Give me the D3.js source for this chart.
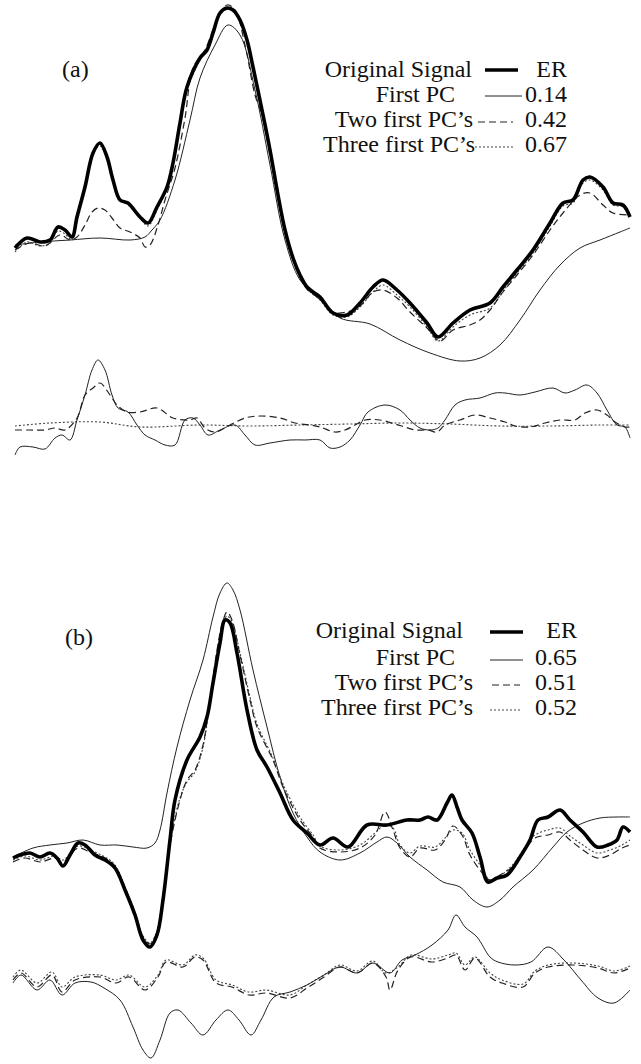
<!DOCTYPE html>
<html><head><meta charset="utf-8">
<script src="https://cdn.jsdelivr.net/npm/d3@7"></script>
<style>html,body{margin:0;padding:0;background:#fff;}svg{display:block;}</style>
</head><body>
<svg id="chart" width="641" height="1064"></svg>
<script>
// ---------- DATA (time in samples, amplitude in arbitrary units) ----------
const seriesNames = ["Original Signal", "First PC", "Two first PC\u2019s", "Three first PC\u2019s"];
const erA = ["ER", "0.14", "0.42", "0.67"];
const erB = ["ER", "0.65", "0.51", "0.52"];

// Panel (a) reconstructions
const aOrig = [[2,2],[14,12],[27,8],[37,10],[45,23],[52,20],[59,13],[64,33],[72,63],[80,97],[87,107],[94,93],[100,70],[107,50],[115,47],[127,33],[135,27],[144,43],[154,63],[160,87],[167,127],[174,163],[187,192],[194,200],[200,217],[207,237],[214,242],[220,240],[227,230],[234,210],[240,183],[249,140],[257,100],[265,55],[272,20],[280,-8],[287,-25],[294,-37],[300,-42],[307,-47],[320,-63],[334,-65],[347,-53],[360,-37],[370,-30],[384,-40],[397,-53],[414,-73],[425,-87],[440,-73],[457,-60],[477,-53],[490,-37],[504,-20],[520,0],[537,27],[550,47],[560,50],[570,70],[577,73],[590,63],[600,47],[610,45],[617,33]];
const aPC1 = [[2,5],[27,8],[57,10],[87,12],[117,10],[132,13],[139,20],[147,30],[162,70],[177,130],[187,172],[202,205],[215,225],[227,215],[242,160],[257,85],[272,10],[287,-30],[307,-50],[327,-68],[357,-74],[387,-90],[417,-103],[447,-111],[467,-108],[487,-95],[507,-70],[527,-40],[547,-15],[567,2],[587,10],[607,18],[617,22]];
const aPC2 = [[2,0],[17,7],[32,4],[47,15],[57,10],[64,13],[72,25],[79,38],[85,42],[92,40],[99,32],[107,22],[117,18],[127,12],[132,3],[137,5],[145,25],[152,50],[162,82],[172,132],[180,182],[192,200],[202,225],[214,245],[222,240],[232,205],[242,155],[249,135],[257,95],[267,45],[280,-10],[294,-39],[307,-49],[320,-62],[334,-62],[347,-56],[360,-42],[370,-40],[384,-48],[397,-62],[414,-78],[427,-91],[440,-80],[457,-75],[467,-70],[477,-60],[490,-42],[504,-25],[520,-5],[537,20],[550,37],[567,55],[577,57],[590,45],[600,37],[617,35]];
const aPC3 = [[2,-2],[14,8],[27,4],[37,7],[45,19],[52,16],[59,10],[64,28],[72,60],[80,97],[87,104],[94,92],[100,68],[107,50],[115,45],[127,32],[135,24],[144,40],[154,62],[160,85],[167,125],[174,160],[187,190],[194,200],[200,217],[207,236],[214,241],[220,239],[227,228],[234,208],[240,182],[249,138],[257,98],[265,53],[272,18],[280,-10],[287,-28],[294,-39],[307,-50],[320,-65],[334,-67],[347,-57],[360,-42],[370,-35],[384,-45],[397,-57],[414,-77],[425,-91],[440,-77],[457,-65],[477,-58],[490,-41],[504,-23],[520,-3],[537,24],[550,44],[560,47],[570,67],[577,70],[590,60],[600,45],[610,43],[617,32]];
// Panel (a) residuals
const aRes1 = [[2,-30],[7,-22],[20,-22],[32,-24],[42,-13],[49,-10],[57,-15],[64,5],[72,30],[79,55],[85,65],[92,55],[99,30],[105,17],[115,13],[124,0],[132,-10],[142,-15],[152,-20],[162,-20],[172,5],[180,7],[187,0],[195,-10],[207,-5],[222,0],[232,-10],[242,-20],[257,-18],[277,-15],[292,-15],[307,-15],[317,-23],[327,-22],[337,-15],[347,0],[355,13],[372,20],[387,15],[397,5],[407,-3],[417,-5],[425,-3],[432,5],[442,20],[452,25],[467,27],[482,32],[492,32],[507,30],[522,33],[540,37],[552,32],[562,35],[574,40],[584,32],[594,15],[604,0],[612,-2],[617,-13]];
const aRes2 = [[2,-5],[17,-5],[32,-5],[42,-3],[52,-5],[64,7],[72,30],[80,37],[87,42],[97,30],[104,20],[114,13],[127,13],[144,17],[160,7],[177,5],[184,7],[192,-3],[202,-7],[217,0],[232,7],[247,9],[267,7],[282,2],[297,0],[307,-2],[322,-7],[332,-5],[342,0],[352,5],[367,5],[382,1],[392,-2],[402,-5],[415,-5],[424,-7],[432,0],[447,5],[462,10],[477,7],[492,3],[502,-1],[517,-2],[532,2],[547,5],[562,5],[572,12],[584,15],[594,10],[602,3],[612,-2],[617,-2]];
const aRes3 = [[2,-1],[37,2],[87,3],[127,-2],[187,0],[237,-1],[287,0],[337,1],[387,2],[437,1],[487,-1],[537,-1],[587,0],[617,0]];

// Panel (b) reconstructions
const bOrig = [[0,-8],[7,-5],[17,-3],[27,-7],[37,-3],[44,-8],[50,-16],[57,-5],[65,7],[72,5],[82,-5],[92,-10],[102,-18],[112,-40],[122,-65],[130,-90],[137,-97],[144,-85],[150,-50],[157,10],[162,50],[174,90],[187,113],[194,133],[200,167],[207,207],[212,230],[217,227],[224,197],[234,140],[244,100],[254,83],[267,57],[280,30],[294,17],[307,5],[320,12],[335,3],[354,25],[374,25],[394,30],[407,30],[415,33],[424,30],[434,47],[439,55],[444,43],[449,30],[459,17],[467,-7],[475,-32],[484,-28],[494,-25],[507,-7],[517,10],[525,30],[535,33],[547,40],[557,30],[570,18],[584,3],[595,5],[604,10],[610,23],[617,18]];
const bPC1 = [[0,-7],[20,2],[37,5],[54,7],[70,10],[87,5],[104,5],[120,3],[134,2],[142,7],[147,20],[154,57],[164,103],[177,150],[190,190],[200,233],[207,257],[214,267],[220,260],[227,240],[240,180],[254,123],[267,73],[280,37],[294,13],[307,-2],[327,-10],[347,-3],[364,8],[374,13],[384,7],[397,-7],[414,-20],[430,-32],[447,-37],[460,-50],[474,-57],[487,-50],[500,-37],[520,-20],[540,3],[554,18],[570,27],[587,32],[604,33],[617,33]];
const bPC2 = [[0,-12],[12,-8],[27,-12],[42,-8],[50,-12],[65,2],[77,-2],[92,-8],[102,-16],[112,-38],[122,-63],[130,-87],[137,-94],[144,-82],[150,-47],[157,5],[167,50],[174,70],[182,80],[190,105],[197,150],[204,200],[209,225],[214,238],[219,230],[227,195],[237,150],[244,123],[260,90],[270,63],[287,30],[300,13],[307,2],[327,-2],[347,2],[362,15],[372,38],[380,20],[387,2],[397,-7],[407,2],[422,0],[432,10],[440,24],[449,15],[457,-5],[467,-20],[477,-30],[487,-25],[502,-15],[512,0],[522,12],[535,15],[547,18],[557,10],[570,0],[584,-8],[597,-5],[609,2],[617,5]];
const bPC3 = [[0,-10],[12,-6],[27,-10],[42,-6],[50,-10],[65,4],[77,0],[92,-7],[102,-15],[112,-37],[122,-62],[130,-86],[137,-93],[144,-81],[150,-46],[157,7],[167,52],[174,68],[182,78],[190,103],[197,148],[204,198],[209,223],[214,234],[219,228],[227,197],[237,153],[244,126],[260,92],[270,66],[287,33],[300,15],[307,4],[327,0],[347,5],[362,17],[372,25],[380,22],[387,5],[397,-3],[407,4],[422,3],[432,12],[440,20],[449,17],[457,0],[467,-15],[477,-30],[487,-26],[502,-12],[512,3],[522,15],[535,20],[547,22],[557,14],[570,5],[584,-3],[597,0],[609,5],[617,10]];
// Panel (b) residuals
const bRes1 = [[0,-8],[8,0],[24,-15],[37,-5],[49,-20],[62,-8],[78,-7],[91,-13],[107,-25],[120,-52],[130,-75],[138,-83],[147,-65],[157,-38],[165,-35],[178,-48],[190,-60],[203,-45],[215,-35],[226,-45],[238,-60],[248,-45],[261,-22],[277,-17],[294,-10],[311,0],[327,8],[344,2],[360,12],[377,2],[389,15],[402,20],[419,30],[435,45],[443,60],[452,48],[464,38],[477,18],[485,13],[502,10],[518,13],[535,28],[551,15],[568,-5],[585,-23],[601,-28],[617,-15]];
const bRes2 = [[0,-5],[8,2],[24,-12],[39,0],[49,-17],[62,-5],[87,-2],[103,-8],[116,-2],[132,-15],[145,-2],[153,13],[170,8],[182,18],[190,15],[203,-8],[219,-12],[236,-20],[253,-18],[277,-23],[294,-13],[311,-2],[327,8],[344,2],[360,12],[373,-2],[377,-15],[385,5],[398,18],[419,13],[435,17],[443,20],[452,5],[462,17],[477,-2],[489,-8],[510,-12],[522,2],[535,8],[560,10],[585,7],[601,2],[617,7]];
const bRes3 = [[0,-2],[8,5],[24,-8],[39,3],[49,-12],[62,-2],[87,0],[103,-5],[116,0],[132,-12],[145,0],[153,15],[170,10],[182,20],[190,17],[203,-5],[219,-10],[236,-17],[253,-15],[277,-20],[294,-10],[311,0],[327,10],[344,4],[360,14],[373,2],[385,8],[398,20],[419,16],[435,20],[443,22],[452,10],[462,18],[477,2],[489,-5],[510,-9],[522,4],[535,10],[560,12],[585,9],[601,4],[617,9]];

// ---------- STYLES ----------
const styles = [
  {w: 3.6, dash: null, color: "#000"},
  {w: 1.0, dash: null, color: "#222"},
  {w: 1.2, dash: "7,4", color: "#222"},
  {w: 1.1, dash: "2,2", color: "#444"}
];

const svg = d3.select("#chart");
const x = d3.scaleLinear().domain([0, 617]).range([13, 630]);

function drawSet(series, yScale, order) {
  const line = d3.line().x(d => x(d[0])).y(d => yScale(d[1])).curve(d3.curveCatmullRom.alpha(0.5));
  order.forEach(i => {
    if (!series[i]) return;
    svg.append("path").datum(series[i])
      .attr("d", line)
      .attr("fill", "none")
      .attr("stroke", styles[i].color)
      .attr("stroke-width", styles[i].w)
      .attr("stroke-dasharray", styles[i].dash)
      .attr("stroke-linejoin", "round");
  });
}

// Panel (a)
const yA = d3.scaleLinear().domain([-250, 250]).range([500, 0]);
const yAr = d3.scaleLinear().domain([-50, 75]).range([475, 350]);
drawSet([aOrig, aPC1, aPC2, aPC3], yA, [1, 3, 2, 0]);
drawSet([null, aRes1, aRes2, aRes3], yAr, [3, 2, 1]);

// Panel (b)
const yB = d3.scaleLinear().domain([-100, 290]).range([950, 560]);
const yBr = d3.scaleLinear().domain([-90, 65]).range([1065, 910]);
drawSet([bOrig, bPC1, bPC2, bPC3], yB, [1, 3, 2, 0]);
drawSet([null, bRes1, bRes2, bRes3], yBr, [3, 2, 1]);

// ---------- LABELS & LEGENDS ----------
const font = "'Liberation Serif','Times New Roman',serif";
function txt(s, px, py, anchor) {
  svg.append("text").attr("x", px).attr("y", py).attr("text-anchor", anchor || "start")
    .attr("font-family", font).attr("font-size", 24).attr("fill", "#111").text(s);
}
txt("(a)", 62, 77);
txt("(b)", 65, 645);

const legA = {
  textEnd: [472, 455, 473, 475], base: [77, 102, 127, 152],
  line: [[485, 518, 70], [485, 522, 96], [478, 513, 122], [475, 513, 147]], valEnd: 567
};
const legB = {
  textEnd: [463, 455, 473, 473], base: [638, 665, 690, 715],
  line: [[490, 523, 632], [490, 523, 660], [492, 520, 685], [490, 520, 710]], valEnd: 577
};
function legend(L, vals) {
  seriesNames.forEach((n, i) => {
    txt(n, L.textEnd[i], L.base[i], "end");
    txt(vals[i], L.valEnd, L.base[i], "end");
    const [x1, x2, yy] = L.line[i];
    svg.append("line").attr("x1", x1).attr("x2", x2).attr("y1", yy).attr("y2", yy)
      .attr("stroke", styles[i].color).attr("stroke-width", styles[i].w)
      .attr("stroke-dasharray", styles[i].dash);
  });
}
legend(legA, erA);
legend(legB, erB);
</script>
</body></html>
